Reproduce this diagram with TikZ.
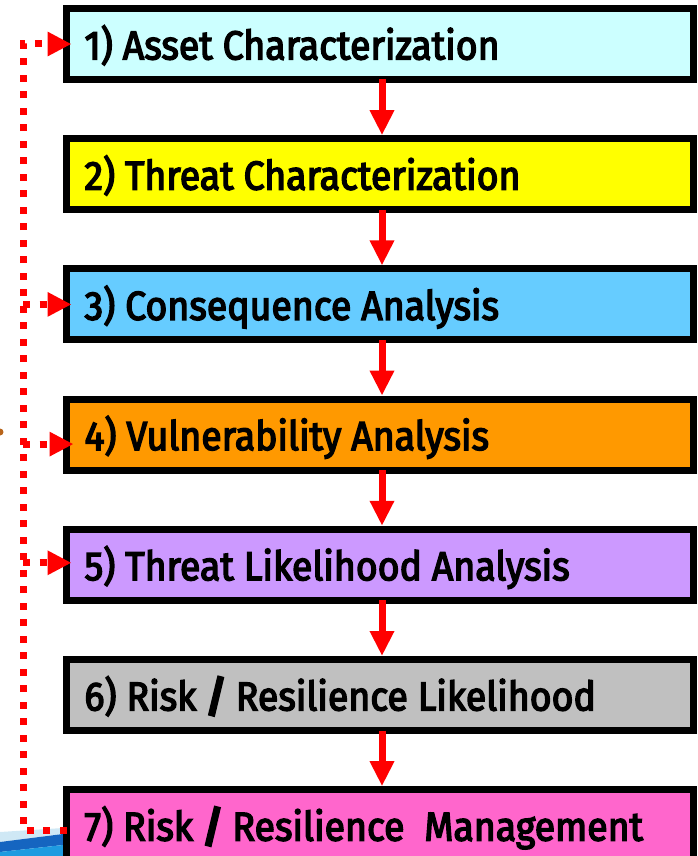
\documentclass[tikz,border=0pt]{standalone}
\usepackage{fontspec}
\setmainfont{Fira Sans}
\newfontfamily\stagefont{Fira Sans}[FakeStretch=0.925, FakeBold=3.5]
\newfontfamily\slashfont{Fira Sans}[FakeStretch=0.925, FakeBold=10]
\usetikzlibrary{arrows.meta}

\definecolor{assetfill}{HTML}{CCFFFF}
\definecolor{threatfill}{HTML}{FFFF00}
\definecolor{consfill}{HTML}{66CCFF}
\definecolor{vulnfill}{HTML}{FF9900}
\definecolor{likefill}{HTML}{CC99FF}
\definecolor{riskfill}{HTML}{C0C0C0}
\definecolor{mgmtfill}{HTML}{FF66CC}
\definecolor{flowred}{HTML}{FF0000}
\definecolor{dotbrown}{HTML}{B8651B}
\definecolor{swooshlight}{HTML}{CFE8F5}
\definecolor{swooshdark}{HTML}{1565C0}
\definecolor{swooshcyan}{HTML}{1E9BE0}

\newcommand{\heavyslash}{{\slashfont /}}

\begin{document}
\begin{tikzpicture}[x=1pt,y=-1pt,
  stagebox/.style={draw=black, line width=7pt, minimum width=627pt,
    minimum height=71pt, inner sep=0pt, outer sep=0pt},
  stagelabel/.style={anchor=west, inner sep=0pt, outer sep=0pt,
    font=\fontsize{40.5}{42}\stagefont,
    text height=27.9pt, text depth=0pt},
  flow/.style={draw=flowred, line width=7pt,
    -{Triangle[width=23pt,length=25pt]}, shorten >=3.5pt},
  loopline/.style={draw=flowred, line width=7pt, dash pattern=on 7pt off 9.5pt},
  looptip/.style={loopline, -{Triangle[width=23pt,length=24pt]}},
]
\useasboundingbox (0,0) rectangle (697,856);
\clip (0,0) rectangle (697,856);

% corner decorations at the left edge
\fill[dotbrown] (0,432) circle (3.5);
\fill[swooshlight] (0,832) -- (63,828) -- (63,834) -- (0,842) -- cycle;
\fill[swooshdark] (0,842) -- (63,834) -- (63,845) -- (0,852) -- cycle;
\fill[swooshcyan] (0,852) -- (63,845) -- (63,856) -- (0,856) -- cycle;

% the seven stages
\node[stagebox, fill=assetfill]  (b1) at (380,44.0)  {};
\node[stagebox, fill=threatfill] (b2) at (380,174.2) {};
\node[stagebox, fill=consfill]   (b3) at (380,304.4) {};
\node[stagebox, fill=vulnfill]   (b4) at (380,434.6) {};
\node[stagebox, fill=likefill]   (b5) at (380,564.8) {};
\node[stagebox, fill=riskfill]   (b6) at (380,695.0) {};
\node[stagebox, fill=mgmtfill]   (b7) at (380,825.2) {};

% stage titles
\node[stagelabel] (t1) at ([xshift=18pt,yshift=-1.5pt]b1.west) {1) Asset Characterization};
\node[stagelabel] (t2) at ([xshift=18pt,yshift=-1.5pt]b2.west) {2) Threat Characterization};
\node[stagelabel] (t3) at ([xshift=18pt,yshift=-1.5pt]b3.west) {3) Consequence Analysis};
\node[stagelabel] (t4) at ([xshift=18pt,yshift=-1.5pt]b4.west) {4) Vulnerability Analysis};
\node[stagelabel] (t5) at ([xshift=18pt,yshift=-1.5pt]b5.west) {5) Threat Likelihood Analysis};
\node[stagelabel] (t6) at ([xshift=18pt,yshift=-1.5pt]b6.west) {6) Risk \heavyslash{} Resilience Likelihood};
\node[stagelabel] (t7) at ([xshift=18pt,yshift=-1.5pt]b7.west) {7) Risk \heavyslash{} Resilience\ \ Management};

% forward flow between consecutive stages
\foreach \a/\b in {b1/b2,b2/b3,b3/b4,b4/b5,b5/b6,b6/b7}
  \draw[flow] ([xshift=2pt]\a.south) -- ([xshift=2pt]\b.north);

% feedback loop from management back to earlier stages
\coordinate (trunk) at (23,0);
\draw[looptip] ([yshift=-5pt]b7.west) -| (trunk |- b1.west) -- ([xshift=5pt]b1.west);
\draw[looptip] (trunk |- b3.west) -- ([xshift=5pt]b3.west);
\draw[looptip] ([yshift=-9.5pt]trunk |- b4.west) -- ([xshift=7pt,yshift=-9.5pt]b4.west);
\draw[looptip] ([yshift=2pt]trunk |- b5.west) -- ([xshift=5pt,yshift=2pt]b5.west);
\end{tikzpicture}
\end{document}
